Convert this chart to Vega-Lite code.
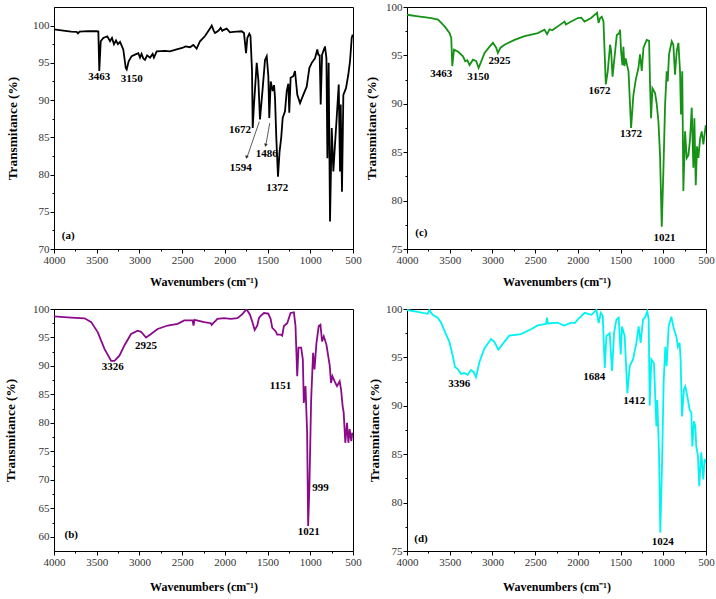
{
  "$schema": "https://vega.github.io/schema/vega-lite/v6.json",
  "padding": {"left": 3, "top": 0, "right": 4, "bottom": 2},
  "autosize": {"type": "pad"},
  "background": "white",
  "columns": 2,
  "spacing": {"row": 60, "column": 54},
  "bounds": "flush",
  "datasets": {
    "a": [
      {"w":4000,"t":99.5},{"w":3891,"t":99.33},{"w":3800,"t":99.2},{"w":3735,"t":99.15},{"w":3720,"t":98.95},{"w":3700,"t":99.2},{"w":3600,"t":99.25},{"w":3500,"t":99.24},{"w":3481,"t":99.2},{"w":3470,"t":93.9},{"w":3453,"t":97.9},{"w":3423,"t":98.35},{"w":3376,"t":98.57},{"w":3344,"t":97.9},{"w":3321,"t":98.35},{"w":3298,"t":97.5},{"w":3274,"t":98.0},{"w":3251,"t":97.5},{"w":3227,"t":97.8},{"w":3189,"t":96.8},{"w":3160,"t":94.3},{"w":3149,"t":94.1},{"w":3126,"t":95.2},{"w":3091,"t":95.9},{"w":3052,"t":96.1},{"w":3013,"t":96.3},{"w":2993,"t":95.7},{"w":2975,"t":96.2},{"w":2955,"t":95.6},{"w":2935,"t":95.4},{"w":2910,"t":96.0},{"w":2876,"t":95.7},{"w":2845,"t":96.2},{"w":2830,"t":95.7},{"w":2798,"t":96.55},{"w":2700,"t":96.6},{"w":2642,"t":96.55},{"w":2564,"t":96.8},{"w":2500,"t":97.0},{"w":2460,"t":97.2},{"w":2408,"t":97.1},{"w":2369,"t":97.4},{"w":2330,"t":96.9},{"w":2291,"t":97.9},{"w":2232,"t":98.6},{"w":2174,"t":99.6},{"w":2154,"t":100.0},{"w":2130,"t":99.3},{"w":2115,"t":99.0},{"w":2076,"t":99.3},{"w":2049,"t":99.7},{"w":2030,"t":99.3},{"w":2018,"t":99.4},{"w":1979,"t":99.6},{"w":1940,"t":99.1},{"w":1901,"t":99.15},{"w":1860,"t":99.2},{"w":1803,"t":99.24},{"w":1776,"t":99.0},{"w":1752,"t":96.3},{"w":1737,"t":98.35},{"w":1714,"t":98.9},{"w":1700,"t":98.6},{"w":1682,"t":93.9},{"w":1674,"t":86.25},{"w":1659,"t":89.4},{"w":1627,"t":95.0},{"w":1608,"t":92.7},{"w":1589,"t":87.4},{"w":1557,"t":91.6},{"w":1530,"t":95.4},{"w":1510,"t":95.9},{"w":1491,"t":93.2},{"w":1480,"t":87.6},{"w":1463,"t":92.5},{"w":1440,"t":91.2},{"w":1424,"t":92.0},{"w":1413,"t":90.3},{"w":1398,"t":85.0},{"w":1378,"t":79.7},{"w":1360,"t":83.0},{"w":1340,"t":85.0},{"w":1323,"t":87.6},{"w":1296,"t":88.5},{"w":1276,"t":91.2},{"w":1257,"t":92.2},{"w":1246,"t":88.3},{"w":1230,"t":93.0},{"w":1199,"t":93.2},{"w":1179,"t":93.9},{"w":1152,"t":90.7},{"w":1120,"t":89.6},{"w":1082,"t":90.7},{"w":1042,"t":91.8},{"w":1011,"t":94.3},{"w":983,"t":95.0},{"w":945,"t":95.6},{"w":918,"t":96.8},{"w":906,"t":96.1},{"w":890,"t":96.0},{"w":878,"t":89.4},{"w":862,"t":96.1},{"w":828,"t":97.2},{"w":811,"t":95.6},{"w":800,"t":82.2},{"w":785,"t":95.0},{"w":769,"t":73.7},{"w":749,"t":86.25},{"w":730,"t":80.4},{"w":711,"t":84.0},{"w":691,"t":87.6},{"w":667,"t":92.1},{"w":652,"t":80.4},{"w":644,"t":89.4},{"w":629,"t":77.7},{"w":613,"t":90.7},{"w":582,"t":91.6},{"w":555,"t":93.4},{"w":535,"t":95.2},{"w":515,"t":98.35},{"w":503,"t":98.8}
    ],
    "c": [
      {"w":4000,"t":99.2},{"w":3871,"t":99.03},{"w":3800,"t":98.95},{"w":3716,"t":98.86},{"w":3637,"t":98.7},{"w":3559,"t":98.0},{"w":3501,"t":97.3},{"w":3482,"t":96.8},{"w":3470,"t":93.9},{"w":3450,"t":95.6},{"w":3404,"t":95.4},{"w":3345,"t":94.9},{"w":3318,"t":94.4},{"w":3294,"t":94.5},{"w":3267,"t":94.0},{"w":3228,"t":94.55},{"w":3189,"t":94.4},{"w":3162,"t":93.7},{"w":3139,"t":94.2},{"w":3092,"t":95.25},{"w":3033,"t":95.9},{"w":2994,"t":96.3},{"w":2956,"t":95.8},{"w":2936,"t":95.25},{"w":2905,"t":95.8},{"w":2858,"t":96.1},{"w":2741,"t":96.6},{"w":2624,"t":97.0},{"w":2468,"t":97.3},{"w":2390,"t":97.65},{"w":2360,"t":97.2},{"w":2332,"t":97.7},{"w":2300,"t":97.6},{"w":2234,"t":98.0},{"w":2156,"t":98.5},{"w":2140,"t":98.2},{"w":2078,"t":98.5},{"w":2000,"t":98.86},{"w":1960,"t":98.9},{"w":1922,"t":98.5},{"w":1845,"t":98.86},{"w":1775,"t":99.4},{"w":1758,"t":98.35},{"w":1739,"t":98.86},{"w":1720,"t":99.0},{"w":1700,"t":98.5},{"w":1673,"t":92.0},{"w":1650,"t":93.35},{"w":1623,"t":96.1},{"w":1611,"t":95.5},{"w":1594,"t":92.8},{"w":1564,"t":95.4},{"w":1544,"t":97.1},{"w":1517,"t":97.3},{"w":1506,"t":97.65},{"w":1494,"t":95.4},{"w":1478,"t":94.0},{"w":1467,"t":95.9},{"w":1455,"t":93.9},{"w":1440,"t":94.7},{"w":1424,"t":94.0},{"w":1407,"t":93.35},{"w":1377,"t":87.5},{"w":1350,"t":90.9},{"w":1322,"t":92.5},{"w":1291,"t":93.7},{"w":1272,"t":95.1},{"w":1252,"t":93.4},{"w":1232,"t":95.8},{"w":1194,"t":96.6},{"w":1166,"t":96.5},{"w":1155,"t":92.0},{"w":1143,"t":88.5},{"w":1127,"t":91.6},{"w":1096,"t":91.1},{"w":1077,"t":90.0},{"w":1057,"t":88.2},{"w":1038,"t":84.7},{"w":1018,"t":77.3},{"w":999,"t":83.0},{"w":979,"t":89.9},{"w":960,"t":93.35},{"w":948,"t":92.3},{"w":933,"t":95.1},{"w":901,"t":96.45},{"w":882,"t":96.1},{"w":863,"t":93.0},{"w":843,"t":95.4},{"w":823,"t":96.3},{"w":804,"t":93.35},{"w":793,"t":88.9},{"w":778,"t":93.35},{"w":765,"t":81.0},{"w":745,"t":87.15},{"w":726,"t":84.4},{"w":706,"t":84.7},{"w":687,"t":86.3},{"w":667,"t":89.6},{"w":648,"t":83.4},{"w":636,"t":88.5},{"w":620,"t":81.6},{"w":605,"t":85.6},{"w":589,"t":84.4},{"w":569,"t":86.4},{"w":550,"t":87.15},{"w":531,"t":85.8},{"w":503,"t":87.8}
    ],
    "b": [
      {"w":4000,"t":98.7},{"w":3798,"t":98.5},{"w":3642,"t":98.36},{"w":3564,"t":97.7},{"w":3487,"t":95.9},{"w":3409,"t":93.0},{"w":3331,"t":90.9},{"w":3292,"t":90.9},{"w":3234,"t":91.8},{"w":3176,"t":93.6},{"w":3098,"t":95.6},{"w":3020,"t":96.2},{"w":2981,"t":96.0},{"w":2923,"t":95.0},{"w":2864,"t":95.6},{"w":2787,"t":96.5},{"w":2670,"t":97.1},{"w":2553,"t":97.4},{"w":2476,"t":98.0},{"w":2378,"t":98.0},{"w":2367,"t":97.1},{"w":2355,"t":98.1},{"w":2242,"t":97.7},{"w":2164,"t":97.5},{"w":2155,"t":97.2},{"w":2087,"t":98.25},{"w":2009,"t":98.4},{"w":1931,"t":98.25},{"w":1853,"t":98.4},{"w":1795,"t":99.1},{"w":1756,"t":99.8},{"w":1744,"t":99.9},{"w":1706,"t":99.0},{"w":1678,"t":97.7},{"w":1651,"t":96.3},{"w":1620,"t":97.1},{"w":1601,"t":98.4},{"w":1581,"t":98.8},{"w":1542,"t":99.3},{"w":1492,"t":99.2},{"w":1464,"t":98.25},{"w":1445,"t":96.7},{"w":1406,"t":96.1},{"w":1387,"t":95.5},{"w":1348,"t":95.5},{"w":1329,"t":95.3},{"w":1309,"t":97.0},{"w":1270,"t":97.5},{"w":1231,"t":99.3},{"w":1192,"t":99.4},{"w":1173,"t":97.0},{"w":1153,"t":88.2},{"w":1138,"t":93.2},{"w":1107,"t":93.2},{"w":1087,"t":91.1},{"w":1076,"t":83.5},{"w":1056,"t":86.45},{"w":1037,"t":78.3},{"w":1025,"t":61.9},{"w":1010,"t":68.9},{"w":990,"t":84.1},{"w":967,"t":92.3},{"w":951,"t":89.4},{"w":928,"t":94.0},{"w":901,"t":97.0},{"w":881,"t":97.25},{"w":862,"t":94.3},{"w":842,"t":95.2},{"w":811,"t":93.75},{"w":772,"t":90.0},{"w":757,"t":87.0},{"w":741,"t":88.2},{"w":706,"t":87.0},{"w":687,"t":86.45},{"w":656,"t":87.3},{"w":640,"t":85.9},{"w":621,"t":82.9},{"w":609,"t":81.8},{"w":590,"t":76.5},{"w":570,"t":80.0},{"w":554,"t":76.5},{"w":539,"t":78.9},{"w":520,"t":76.8},{"w":508,"t":78.3}
    ],
    "d": [
      {"w":4000,"t":99.9},{"w":3875,"t":99.7},{"w":3758,"t":99.5},{"w":3739,"t":99.9},{"w":3700,"t":99.4},{"w":3641,"t":99.1},{"w":3602,"t":98.6},{"w":3563,"t":97.8},{"w":3504,"t":96.6},{"w":3465,"t":95.2},{"w":3438,"t":94.0},{"w":3407,"t":93.8},{"w":3368,"t":93.3},{"w":3329,"t":93.4},{"w":3290,"t":93.2},{"w":3251,"t":93.7},{"w":3220,"t":93.5},{"w":3192,"t":92.95},{"w":3153,"t":94.5},{"w":3095,"t":95.9},{"w":3017,"t":96.9},{"w":2978,"t":96.6},{"w":2931,"t":95.8},{"w":2861,"t":96.6},{"w":2802,"t":97.25},{"w":2666,"t":97.4},{"w":2548,"t":97.9},{"w":2470,"t":98.3},{"w":2373,"t":98.45},{"w":2361,"t":99.1},{"w":2350,"t":98.5},{"w":2236,"t":98.6},{"w":2192,"t":98.4},{"w":2158,"t":98.3},{"w":2080,"t":98.6},{"w":2036,"t":98.55},{"w":2002,"t":98.9},{"w":1919,"t":99.6},{"w":1841,"t":99.4},{"w":1783,"t":99.9},{"w":1756,"t":98.55},{"w":1732,"t":99.6},{"w":1709,"t":99.3},{"w":1685,"t":93.9},{"w":1666,"t":97.2},{"w":1627,"t":97.5},{"w":1600,"t":93.6},{"w":1576,"t":97.5},{"w":1549,"t":98.9},{"w":1522,"t":99.1},{"w":1498,"t":95.3},{"w":1483,"t":98.2},{"w":1452,"t":97.2},{"w":1420,"t":91.3},{"w":1393,"t":94.1},{"w":1354,"t":94.8},{"w":1315,"t":96.5},{"w":1288,"t":98.2},{"w":1265,"t":96.5},{"w":1237,"t":98.9},{"w":1210,"t":99.2},{"w":1187,"t":99.76},{"w":1171,"t":98.9},{"w":1159,"t":90.0},{"w":1140,"t":94.8},{"w":1109,"t":94.4},{"w":1081,"t":87.9},{"w":1070,"t":90.6},{"w":1050,"t":85.1},{"w":1035,"t":76.9},{"w":1015,"t":83.8},{"w":996,"t":92.4},{"w":976,"t":96.1},{"w":961,"t":94.1},{"w":937,"t":98.2},{"w":906,"t":99.2},{"w":875,"t":97.9},{"w":848,"t":97.2},{"w":828,"t":96.1},{"w":809,"t":96.5},{"w":797,"t":94.8},{"w":781,"t":88.9},{"w":758,"t":91.7},{"w":742,"t":92.0},{"w":719,"t":91.0},{"w":692,"t":89.6},{"w":672,"t":89.3},{"w":660,"t":85.8},{"w":641,"t":88.4},{"w":625,"t":87.9},{"w":614,"t":85.8},{"w":594,"t":84.8},{"w":579,"t":81.7},{"w":555,"t":85.2},{"w":532,"t":82.4},{"w":516,"t":84.5},{"w":505,"t":84.1}
    ],
    "la": [
      {"w":3470,"t":93.1,"s":"3463"},{"w":3090,"t":92.8,"s":"3150"},{"w":1823,"t":86.0,"s":"1672"},{"w":1815,"t":80.9,"s":"1594"},{"w":1510,"t":82.8,"s":"1486"},{"w":1386,"t":78.2,"s":"1372"},{"w":3833,"t":71.8,"s":"(a)"}
    ],
    "lc": [
      {"w":3599,"t":93.1,"s":"3463"},{"w":3165,"t":92.8,"s":"3150"},{"w":2916,"t":94.45,"s":"2925"},{"w":1747,"t":91.3,"s":"1672"},{"w":1379,"t":86.9,"s":"1372"},{"w":987,"t":76.1,"s":"1021"},{"w":3832,"t":76.65,"s":"(c)"}
    ],
    "lb": [
      {"w":3312,"t":89.8,"s":"3326"},{"w":2923,"t":93.5,"s":"2925"},{"w":1348,"t":86.4,"s":"1151"},{"w":881,"t":68.6,"s":"999"},{"w":1017,"t":60.75,"s":"1021"},{"w":3798,"t":60.3,"s":"(b)"}
    ],
    "ld": [
      {"w":3387,"t":92.3,"s":"3396"},{"w":1807,"t":92.95,"s":"1684"},{"w":1339,"t":90.5,"s":"1412"},{"w":1007,"t":75.9,"s":"1024"},{"w":3836,"t":76.2,"s":"(d)"}
    ],
    "arr": [
      {"w":1597,"t":87.1,"w2":1744,"t2":82.2},
      {"w":1475,"t":86.9,"w2":1522,"t2":83.8}
    ],
    "head": [
      {"w":1744,"t":82.4},
      {"w":1522,"t":84.0}
    ]
  },
  "concat": [
    {
      "width": 299, "height": 242,
      "layer": [
        {
          "data": {"name": "a"},
          "mark": {"type": "line", "color": "black", "strokeWidth": 1.8, "clip": true},
          "encoding": {
            "x": {"field": "w", "type": "quantitative", "scale": {"domain": [4000, 500], "nice": false},
              "axis": {"title": "Wavenumbers (cm⁻¹)", "values": [4000,3750,3500,3250,3000,2750,2500,2250,2000,1750,1500,1250,1000,750,500], "tickCount": 100, "format": "d", "labelExpr": "datum.value % 500 === 0 ? datum.label : ''", "tickSize": {"condition": {"test": "datum.value % 500 === 0", "value": 4}, "value": 2}, "labelFlush": false, "labelOverlap": false, "titlePadding": 11}},
            "y": {"field": "t", "type": "quantitative", "scale": {"domain": [70, 102.5], "nice": false, "zero": false},
              "axis": {"title": "Transmitance (%)", "values": [70,72.5,75,77.5,80,82.5,85,87.5,90,92.5,95,97.5,100], "tickCount": 100, "format": "d", "labelExpr": "datum.value % 5 === 0 ? datum.label : ''", "tickSize": {"condition": {"test": "datum.value % 5 === 0", "value": 4}, "value": 2}, "labelOverlap": false, "labelFlush": false, "titlePadding": 13}}
          }
        },
        {
          "data": {"name": "arr"},
          "mark": {"type": "rule", "color": "#333", "strokeWidth": 0.8},
          "encoding": {
            "x": {"field": "w", "type": "quantitative"}, "y": {"field": "t", "type": "quantitative"},
            "x2": {"field": "w2"}, "y2": {"field": "t2"}
          }
        },
        {
          "data": {"name": "head"},
          "mark": {"type": "point", "shape": "triangle", "angle": 195, "filled": true, "color": "#333", "size": 14, "opacity": 1},
          "encoding": {
            "x": {"field": "w", "type": "quantitative"}, "y": {"field": "t", "type": "quantitative"}
          }
        },
        {
          "data": {"name": "la"},
          "mark": {"type": "text", "font": "Liberation Serif", "fontWeight": "bold", "fontSize": 11, "color": "black"},
          "encoding": {
            "x": {"field": "w", "type": "quantitative"}, "y": {"field": "t", "type": "quantitative"}, "text": {"field": "s"}
          }
        }
      ]
    },
    {
      "width": 299, "height": 242,
      "layer": [
        {
          "data": {"name": "c"},
          "mark": {"type": "line", "color": "#169216", "strokeWidth": 1.8, "clip": true},
          "encoding": {
            "x": {"field": "w", "type": "quantitative", "scale": {"domain": [4000, 500], "nice": false},
              "axis": {"title": "Wavenumbers (cm⁻¹)", "values": [4000,3750,3500,3250,3000,2750,2500,2250,2000,1750,1500,1250,1000,750,500], "tickCount": 100, "format": "d", "labelExpr": "datum.value % 500 === 0 ? datum.label : ''", "tickSize": {"condition": {"test": "datum.value % 500 === 0", "value": 4}, "value": 2}, "labelFlush": false, "labelOverlap": false, "titlePadding": 11}},
            "y": {"field": "t", "type": "quantitative", "scale": {"domain": [75, 100], "nice": false, "zero": false},
              "axis": {"title": "Transmitance (%)", "values": [75,77.5,80,82.5,85,87.5,90,92.5,95,97.5,100], "tickCount": 100, "format": "d", "labelExpr": "datum.value % 5 === 0 ? datum.label : ''", "tickSize": {"condition": {"test": "datum.value % 5 === 0", "value": 4}, "value": 2}, "labelOverlap": false, "labelFlush": false, "titlePadding": 7}}
          }
        },
        {
          "data": {"name": "lc"},
          "mark": {"type": "text", "font": "Liberation Serif", "fontWeight": "bold", "fontSize": 11, "color": "black"},
          "encoding": {
            "x": {"field": "w", "type": "quantitative"}, "y": {"field": "t", "type": "quantitative"}, "text": {"field": "s"}
          }
        }
      ]
    },
    {
      "width": 299, "height": 242,
      "layer": [
        {
          "data": {"name": "b"},
          "mark": {"type": "line", "color": "#8a0a8a", "strokeWidth": 1.8, "clip": true},
          "encoding": {
            "x": {"field": "w", "type": "quantitative", "scale": {"domain": [4000, 500], "nice": false},
              "axis": {"title": "Wavenumbers (cm⁻¹)", "values": [4000,3750,3500,3250,3000,2750,2500,2250,2000,1750,1500,1250,1000,750,500], "tickCount": 100, "format": "d", "labelExpr": "datum.value % 500 === 0 ? datum.label : ''", "tickSize": {"condition": {"test": "datum.value % 500 === 0", "value": 4}, "value": 2}, "labelFlush": false, "labelOverlap": false, "titlePadding": 14}},
            "y": {"field": "t", "type": "quantitative", "scale": {"domain": [57.5, 100], "nice": false, "zero": false},
              "axis": {"title": "Transmitance (%)", "values": [60,62.5,65,67.5,70,72.5,75,77.5,80,82.5,85,87.5,90,92.5,95,97.5,100], "tickCount": 100, "format": "d", "labelExpr": "datum.value % 5 === 0 ? datum.label : ''", "tickSize": {"condition": {"test": "datum.value % 5 === 0", "value": 4}, "value": 2}, "labelOverlap": false, "labelFlush": false, "titlePadding": 15}}
          }
        },
        {
          "data": {"name": "lb"},
          "mark": {"type": "text", "font": "Liberation Serif", "fontWeight": "bold", "fontSize": 11, "color": "black"},
          "encoding": {
            "x": {"field": "w", "type": "quantitative"}, "y": {"field": "t", "type": "quantitative"}, "text": {"field": "s"}
          }
        }
      ]
    },
    {
      "width": 299, "height": 242,
      "layer": [
        {
          "data": {"name": "d"},
          "mark": {"type": "line", "color": "#00F2F2", "strokeWidth": 1.8, "clip": true},
          "encoding": {
            "x": {"field": "w", "type": "quantitative", "scale": {"domain": [4000, 500], "nice": false},
              "axis": {"title": "Wavenumbers (cm⁻¹)", "values": [4000,3750,3500,3250,3000,2750,2500,2250,2000,1750,1500,1250,1000,750,500], "tickCount": 100, "format": "d", "labelExpr": "datum.value % 500 === 0 ? datum.label : ''", "tickSize": {"condition": {"test": "datum.value % 500 === 0", "value": 4}, "value": 2}, "labelFlush": false, "labelOverlap": false, "titlePadding": 14}},
            "y": {"field": "t", "type": "quantitative", "scale": {"domain": [75, 100], "nice": false, "zero": false},
              "axis": {"title": "Transmitance (%)", "values": [75,77.5,80,82.5,85,87.5,90,92.5,95,97.5,100], "tickCount": 100, "format": "d", "labelExpr": "datum.value % 5 === 0 ? datum.label : ''", "tickSize": {"condition": {"test": "datum.value % 5 === 0", "value": 4}, "value": 2}, "labelOverlap": false, "labelFlush": false, "titlePadding": 4}}
          }
        },
        {
          "data": {"name": "ld"},
          "mark": {"type": "text", "font": "Liberation Serif", "fontWeight": "bold", "fontSize": 11, "color": "black"},
          "encoding": {
            "x": {"field": "w", "type": "quantitative"}, "y": {"field": "t", "type": "quantitative"}, "text": {"field": "s"}
          }
        }
      ]
    }
  ],
  "config": {
    "view": {"stroke": "black", "strokeWidth": 1},
    "axis": {
      "grid": false, "domainColor": "black", "domainWidth": 1, "tickColor": "black", "tickWidth": 1,
      "labelFont": "Liberation Serif", "labelFontSize": 11, "labelColor": "#333", "labelPadding": 1,
      "titleFont": "Liberation Serif", "titleFontWeight": "bold", "titleColor": "black"
    },
    "axisX": {"titleFontSize": 12},
    "axisY": {"titleFontSize": 13.3}
  }
}
